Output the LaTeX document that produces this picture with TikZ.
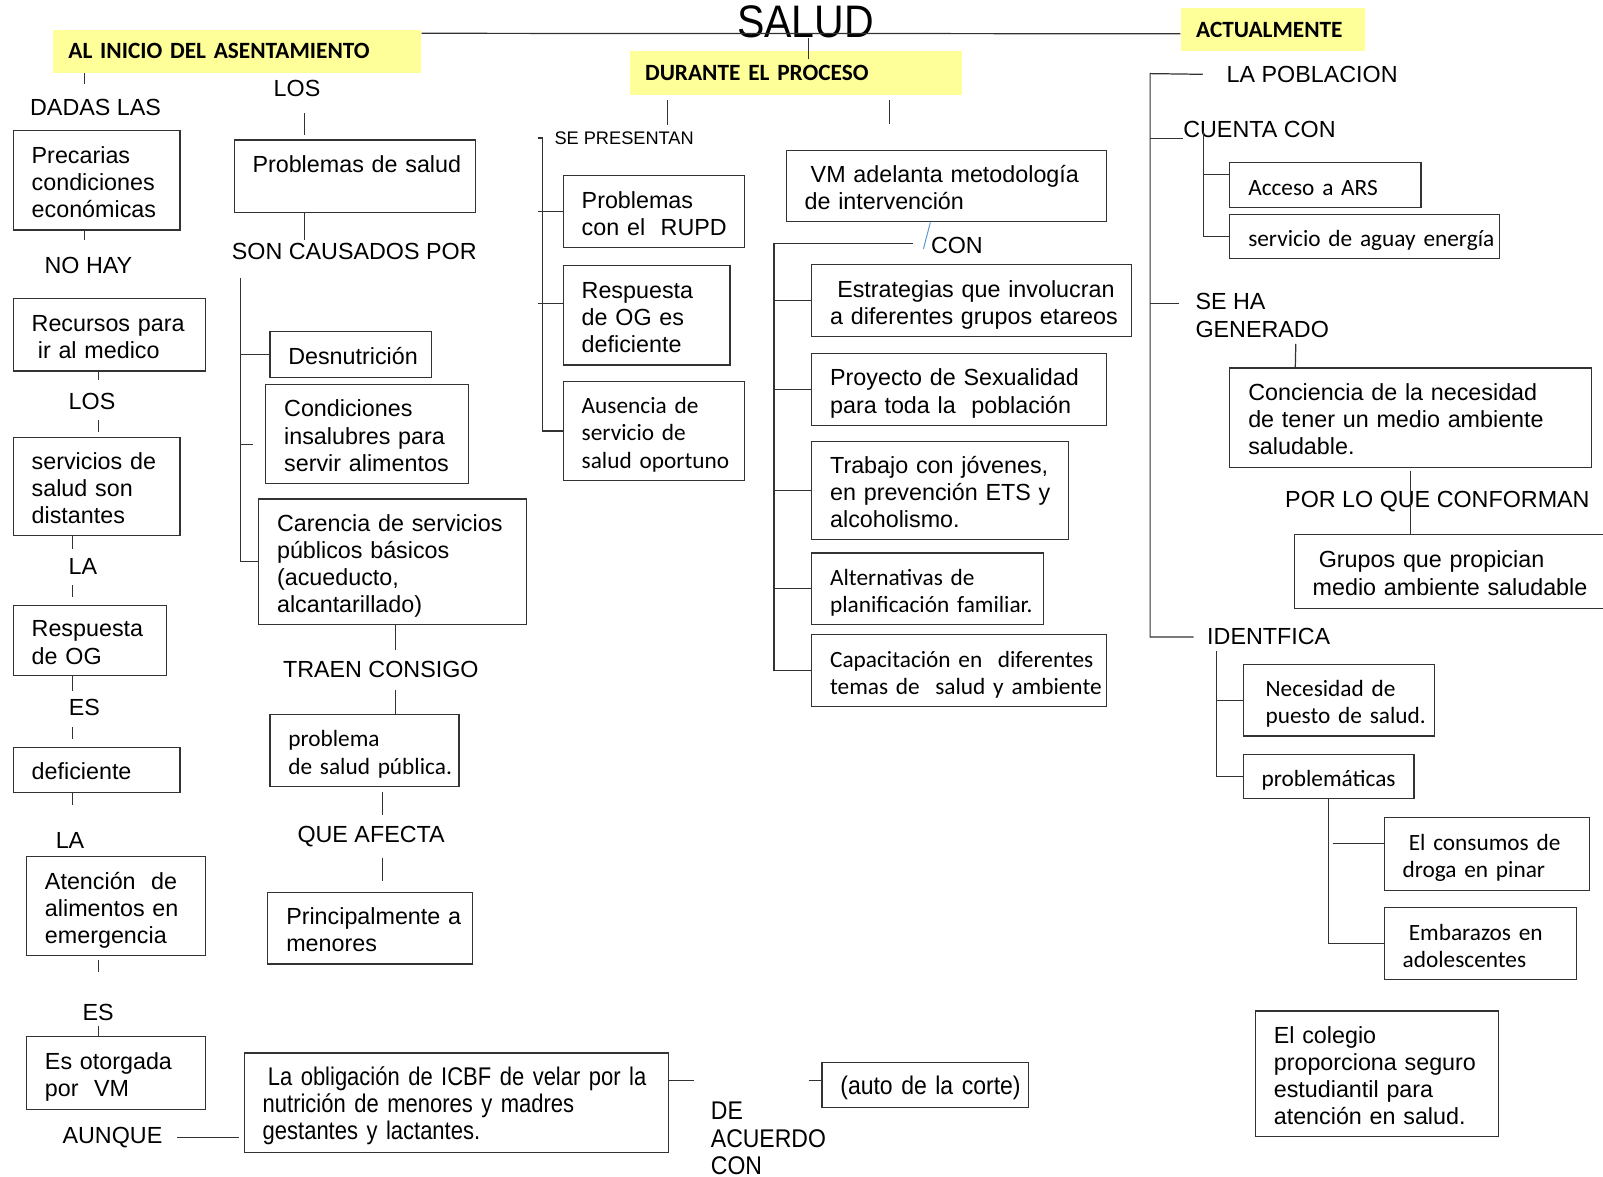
\documentclass[tikz,border=0pt]{standalone}
\usepackage{fontspec}
\setmainfont{Liberation Sans}
\newfontfamily\calibri{Carlito}
\newfontfamily\angosta{Liberation Sans}[FakeStretch=0.9]
\newfontfamily\estrecha{Liberation Sans}[FakeStretch=0.86]
\usepackage{tikz}

\definecolor{amarillo}{RGB}{255,255,153}
\definecolor{azulito}{RGB}{91,155,213}
\newcommand{\cuerpo}{\fontsize{11.4}{13.3}\selectfont}
\newcommand{\lineas}[1]{\raisebox{0pt}[\dimexpr\height+4.5pt\relax]{\begin{tabular}{@{}l@{}}#1\end{tabular}}}

\tikzset{
  caja/.style 2 args={draw=black!80, line width=0.6pt, inner xsep=9pt, inner ysep=0pt,
    align=left, text width=#1, minimum height=#2},
  titulo/.style 2 args={fill=amarillo, inner xsep=7.5pt, inner ysep=0pt, align=left,
    text width=#1, minimum height=#2, font=\cuerpo\calibri\bfseries},
  cal/.style={font=\cuerpo\calibri},
  angosto/.style={font=\angosta\fontsize{12.5}{13.3}\selectfont},
  palabra/.style={inner sep=0pt},
  linea/.style={draw=black!80, line width=0.6pt},
  azul/.style={draw=azulito, line width=0.5pt}
}

\begin{document}
\begin{tikzpicture}[x=0.5pt, y=-0.5pt, font=\cuerpo]
\useasboundingbox (0,0) rectangle (1568,1151);
\clip (0,0) rectangle (1568,1151);

% encabezado
\node[palabra, font=\angosta\fontsize{22.3}{26}\selectfont] (salud) at (788,21) {SALUD};
\node[titulo={165pt}{21pt}] (inicio) at (232,50) {AL INICIO DEL ASENTAMIENTO};
\node[titulo={147.5pt}{21.5pt}] (durante) at (778.5,71.5) {DURANTE EL PROCESO};
\node[titulo={75pt}{21pt}] (actual) at (1245,29) {ACTUALMENTE};
\draw[linea] ([yshift=-2pt]inicio.north east) -- ([yshift=-2pt]actual.west);
\draw[linea] ([xshift=1.5pt]salud.south) -- ([xshift=6.25pt,yshift=-4pt]durante.north);

% al inicio
\node[palabra] (dadas) at (93.5,105) {DADAS LAS};
\node[caja={63.5pt}{48.5pt}] (precarias) at (94.5,176.5) {\lineas{Precarias\\condiciones\\económicas}};
\node[palabra] (nohay) at (86.5,260) {NO HAY};
\node[caja={76pt}{35.5pt}] (recursos) at (107,327.5) {\lineas{Recursos para\\\hspace{3pt}ir al medico}};
\node[palabra] (los1) at (90,393) {LOS};
\node[caja={63.5pt}{48pt}] (distantes) at (94.5,476) {\lineas{servicios de\\salud son\\distantes}};
\node[palabra] (la1) at (81,554) {LA};
\node[caja={57pt}{34.5pt}] (respuesta) at (88,626.5) {\lineas{Respuesta\\de OG}};
\node[palabra] (es1) at (82.5,692) {ES};
\node[caja={63.5pt}{22pt}] (deficiente) at (94.5,753) {\lineas{deficiente}};
\node[palabra] (la2) at (68.5,822) {LA};
\node[caja={69.5pt}{48.5pt}] (atencion) at (113.5,886.5) {\lineas{Atención\ \ de\\alimentos en\\emergencia}};
\node[palabra] (es2) at (96,990) {ES};
\node[caja={69.5pt}{35.5pt}] (otorgada) at (113.5,1049.5) {\lineas{Es otorgada\\por\ \ VM}};
\node[palabra] (aunque) at (110,1113) {AUNQUE};
\node[caja={189.5pt}{48.5pt}, font=\estrecha\fontsize{12.5}{13.3}\selectfont] (icbf) at (446.5,1078.5) {\lineas{\hspace{2.5pt}La obligación de ICBF de velar por la\\nutrición de menores y madres\\gestantes y lactantes.}};
\node[palabra, angosto, align=left, anchor=west] (acuerdo) at (695,1113.5) {DE\\ACUERDO\\CON};
\node[caja={83pt}{22pt}, angosto] (auto) at (905,1061) {\lineas{(auto de la corte)}};

\draw[linea, shorten >=7pt] ([xshift=-74.5pt]inicio.south) -- ([xshift=-5.25pt]dadas.north);
\draw[linea, shorten >=8.5pt] ([xshift=-5.75pt]precarias.south) -- ([xshift=-1.75pt]nohay.north);
\draw[linea, shorten >=6.5pt] ([xshift=-5.5pt]recursos.south) -- ([xshift=3pt]los1.north);
\draw[linea, shorten <=4.5pt, shorten >=2.5pt] ([xshift=3pt]los1.south) -- ([xshift=0.75pt]distantes.north);
\draw[linea, shorten >=4.5pt] ([xshift=-11.75pt]distantes.south) -- ([xshift=-5pt]la1.north);
\draw[linea, shorten <=5pt, shorten >=3.5pt] ([xshift=-5pt]la1.south) -- ([xshift=-8.5pt]respuesta.north);
\draw[linea, shorten >=4pt] ([xshift=-8.5pt]respuesta.south) -- ([xshift=-5.75pt]es1.north);
\draw[linea, shorten <=5.5pt, shorten >=4pt] ([xshift=-5.75pt]es1.south) -- ([xshift=-11.75pt]deficiente.north);
\draw[linea, shorten >=13pt] ([xshift=-11.75pt]deficiente.south) -- ([xshift=1.25pt]la2.north);
\draw[linea, shorten <=1.5pt, shorten >=15.5pt] ([xshift=-8.75pt]atencion.south) -- (es2.north);
\draw[linea, shorten <=2.5pt] (es2.south) -- ([xshift=-8.75pt]otorgada.north);
\draw[linea, shorten <=7pt, shorten >=2.5pt] (aunque.east) -- ([yshift=-17.25pt]icbf.west);
\coordinate (c1) at (679,1057);
\draw[linea] (icbf.east |- c1) -- (c1);
\coordinate (c2) at (791,1057);
\draw[linea] (c2) -- (auto.west |- c2);

% los problemas
\node[palabra] (los2) at (290.5,87) {LOS};
\node[caja={100pt}{35.5pt}] (problemas) at (347,172.5) {\lineas{Problemas de salud\\~}};
\node[palabra] (causados) at (346.5,246) {SON CAUSADOS POR};
\node[caja={61pt}{22.5pt}] (desnutricion) at (343,346.5) {\lineas{Desnutrición}};
\node[caja={81pt}{48.5pt}] (insalubres) at (359,424.5) {\lineas{Condiciones\\insalubres para\\servir alimentos}};
\node[caja={113pt}{61.5pt}] (carencia) at (384,549.5) {\lineas{Carencia de servicios\\públicos básicos\\(acueducto,\\alcantarillado)}};
\node[palabra] (traen) at (372.5,655) {TRAEN CONSIGO};
\node[caja={74.5pt}{35pt}, cal] (publica) at (356.5,734) {\lineas{problema\\de salud pública.}};
\node[palabra] (afecta) at (363,818) {QUE AFECTA};
\node[caja={82pt}{35pt}] (menores) at (362,908) {\lineas{Principalmente a\\menores}};

\draw[linea, shorten <=7.5pt, shorten >=2pt] ([xshift=3.75pt]los2.south) -- ([xshift=-24.5pt]problemas.north);
\draw[linea, shorten >=1.5pt] ([xshift=-24.5pt]problemas.south) -- ([xshift=-24.25pt]causados.north);
\coordinate (t1) at (235,272);
\draw[linea] (t1) |- (carencia.west);
\draw[linea] (t1 |- desnutricion.west) -- (desnutricion.west);
\draw[linea, shorten >=6pt] ([yshift=-5.25pt]t1 |- insalubres.west) -- ([yshift=-5.25pt]insalubres.west);
\draw[linea, shorten >=5.5pt] ([xshift=1.5pt]carencia.south) -- ([xshift=7.25pt]traen.north);
\draw[linea, shorten <=5.5pt] ([xshift=7.25pt]traen.south) -- ([xshift=15.25pt]publica.north);
\draw[linea, shorten <=2.5pt, shorten >=5pt] ([xshift=8.75pt]publica.south) -- ([xshift=5.5pt]afecta.north);
\draw[linea, shorten <=5.5pt, shorten >=5.5pt] ([xshift=5.5pt]afecta.south) -- ([xshift=6pt]menores.north);

% durante el proceso
\node[palabra, font=\fontsize{8.9}{10.5}\selectfont] (presentan) at (610.5,135) {SE PRESENTAN};
\node[caja={70.5pt}{35pt}] (rupd) at (639.5,207) {\lineas{Problemas\\con el\ \ RUPD}};
\node[caja={63.5pt}{48.5pt}] (respog) at (632.5,308.5) {\lineas{Respuesta\\de OG es\\deficiente}};
\node[caja={70.5pt}{48.5pt}, cal] (ausencia) at (639.5,421.5) {\lineas{Ausencia de\\servicio de\\salud oportuno}};

\draw[linea, shorten <=2pt, shorten >=3pt] ([xshift=-62.75pt]durante.south) -- ([xshift=21.25pt]presentan.north);
\coordinate (t2) at (526,135);
\draw[linea] (t2) -- ++(2.5pt,0) |- (ausencia.west);
\draw[linea] (t2 |- rupd.west) -- (rupd.west);
\draw[linea] ([yshift=5.75pt]t2 |- respog.west) -- ([yshift=5.75pt]respog.west);

\node[caja={138.5pt}{35pt}] (vm) at (925.5,182) {\lineas{\hspace{3pt}VM adelanta metodología\\de intervención}};
\node[palabra] (con) at (936,240) {CON};
\node[caja={138.5pt}{35pt}] (estrategias) at (950.5,294) {\lineas{\hspace{3.5pt}Estrategias que involucran\\a diferentes grupos etareos}};
\node[caja={126pt}{35pt}] (proyecto) at (938,381) {\lineas{Proyecto de Sexualidad\\para toda la\ \ población}};
\node[caja={107.5pt}{48pt}] (trabajo) at (919.5,480) {\lineas{Trabajo con jóvenes,\\en prevención ETS y\\alcoholismo.}};
\node[caja={95.5pt}{35pt}, cal] (alternativas) at (907.5,576) {\lineas{Alternativas de\\planificación familiar.}};
\node[caja={126pt}{35pt}, cal] (capacitacion) at (938,656) {\lineas{Capacitación en\ \ diferentes\\temas de\ \ salud y ambiente}};

\draw[linea, shorten <=2pt, shorten >=12.5pt] ([xshift=45.75pt]durante.south) -- ([xshift=-27.75pt]vm.north);
\draw[azul] ([xshift=-7.75pt]vm.south) -- ([xshift=-3.5pt,yshift=2.5pt]con.south west);
\coordinate (t3) at (893,238);
\coordinate (t4) at (757,238);
\draw[linea] (t3) -- (t4) |- (capacitacion.west);
\foreach \n in {estrategias,proyecto,trabajo,alternativas}
  \draw[linea] (t4 |- \n.west) -- (\n.west);

% actualmente
\node[palabra] (poblacion) at (1283.5,73) {LA POBLACION};
\node[palabra] (cuenta) at (1232,127) {CUENTA CON};
\node[caja={75.5pt}{22pt}, cal] (ars) at (1296.5,181) {\lineas{Acceso a ARS}};
\node[caja={114pt}{21.5pt}, cal] (agua) at (1335,231.5) {\lineas{servicio de aguay energía}};
\node[palabra, align=left, anchor=west] (generado) at (1169,308.5) {SE HA\\GENERADO};
\node[caja={159pt}{48.5pt}] (conciencia) at (1380,408.5) {\lineas{Conciencia de la necesidad\\de tener un medio ambiente\\saludable.}};
\node[palabra] (conforman) at (1406,491) {POR LO QUE CONFORMAN};
\node[caja={141.5pt}{36pt}] (grupos) at (1425.5,559) {\lineas{\hspace{3pt}Grupos que propician\\medio ambiente saludable}};
\node[palabra] (identifica) at (1241,623) {IDENTFICA};
\node[caja={75.5pt}{35pt}, cal] (necesidad) at (1309.5,685) {\lineas{\hspace{2pt}Necesidad de\\\hspace{2pt}puesto de salud.}};
\node[caja={65.5pt}{21.5pt}, cal] (problematicas) at (1299.5,759.5) {\lineas{problemáticas}};
\node[caja={82.5pt}{35.5pt}, cal] (droga) at (1454.5,835.5) {\lineas{\hspace{3pt}El consumos de\\droga en pinar}};
\node[caja={76pt}{35pt}, cal] (embarazos) at (1448,923) {\lineas{\hspace{3pt}Embarazos en\\adolescentes}};
\node[caja={101pt}{61.5pt}] (colegio) at (1347,1050.5) {\lineas{El colegio\\proporciona seguro\\estudiantil para\\atención en salud.}};

\coordinate (t5) at (1125,72);
\draw[linea, shorten <=11.5pt, shorten >=6.5pt] (poblacion.west) -- (t5) |- (identifica.west);
\draw[linea] (t5 |- cuenta.south west) -- (cuenta.south west);
\coordinate (t6) at (1177,128);
\draw[linea] (t6) |- (agua.west);
\draw[linea] ([yshift=5pt]t6 |- ars.west) -- ([yshift=5pt]ars.west);
\draw[linea, shorten >=8pt] ([yshift=5.75pt]t5 |- generado.west) -- ([yshift=5.75pt]generado.west);
\draw[linea, shorten <=3pt] ([xshift=16.5pt]generado.south) -- ([xshift=-56.5pt]conciencia.north);
\draw[linea, shorten <=1.5pt] (conciencia.south) -- ([xshift=-22.75pt]grupos.north);
\coordinate (t7) at (1190,637);
\draw[linea] (t7) |- (problematicas.west);
\draw[linea] (t7 |- necesidad.west) -- (necesidad.west);
\draw[linea] (problematicas.south) |- (embarazos.west);
\draw[linea, shorten <=2pt] ([yshift=5.25pt]problematicas.south |- droga.west) -- ([yshift=5.25pt]droga.west);
\end{tikzpicture}
\end{document}
